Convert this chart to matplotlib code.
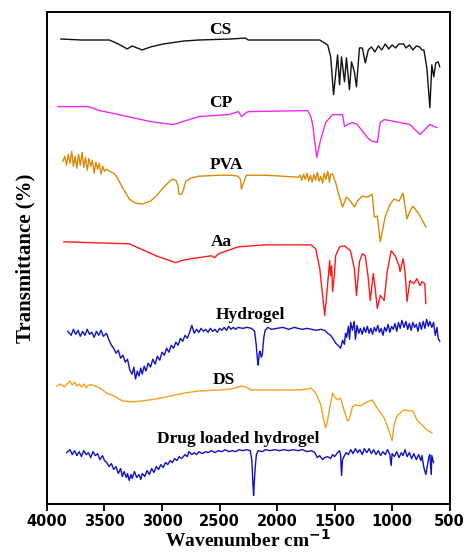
import matplotlib
matplotlib.use("Agg")
import matplotlib.pyplot as plt

# ---------------- data (wavenumber cm-1, transmittance a.u., stacked) ----------------
cs_wn = [3879, 3700, 3457, 3380, 3302, 3260, 3172, 3100, 2990, 2810, 2681, 2400, 2276, 2250,
         2000, 1800, 1629, 1560, 1534, 1509, 1474, 1457, 1440, 1414, 1397, 1371, 1353, 1328,
         1310, 1284, 1259, 1233, 1207, 1180, 1150, 1120, 1090, 1060, 1030, 1000, 970, 940,
         900, 880, 850, 820, 790, 760, 741, 724, 698, 672, 655, 638, 621, 600, 586]
cs_t = [468, 467, 467, 463, 458, 461, 457, 460, 463, 466, 467, 468, 469, 467,
        467, 467, 467, 462, 450, 412, 452, 422, 450, 425, 449, 417, 445, 435,
        420, 459, 459, 444, 457, 460, 455, 461, 457, 463, 458, 462, 459, 463,
        463, 459, 462, 457, 461, 460, 457, 457, 439, 399, 442, 430, 444, 445, 440]

cp_wn = [3905, 3647, 3612, 3543, 3457, 3300, 3100, 2914, 2871, 2681, 2422, 2336, 2310, 2267,
         2250, 1733, 1707, 1690, 1670, 1655, 1621, 1578, 1517, 1431, 1414, 1388, 1345, 1302,
         1216, 1173, 1129, 1103, 1069, 845, 759, 672, 612]
cp_t = [400, 400, 399, 396, 394, 390, 385, 382, 383, 390, 392, 395, 390, 394,
        395, 396, 390, 382, 362, 349, 367, 384, 392, 392, 380, 382, 384, 382,
        369, 365, 364, 384, 387, 382, 372, 382, 379]

pva_wn = [3862, 3845, 3830, 3815, 3800, 3785, 3770, 3755, 3740, 3725, 3710, 3695, 3680, 3665,
          3650, 3635, 3620, 3605, 3590, 3575, 3560, 3545, 3530, 3515, 3500, 3480, 3457, 3420,
          3397, 3340, 3285, 3230, 3172, 3100, 3050, 3000, 2950, 2914, 2880, 2860, 2853, 2828,
          2810, 2793, 2750, 2681, 2500, 2397, 2340, 2319, 2310, 2295, 2267, 2100, 1950, 1819,
          1800, 1785, 1770, 1755, 1740, 1725, 1710, 1695, 1680, 1665, 1650, 1635, 1620, 1605,
          1590, 1575, 1560, 1545, 1535, 1517, 1500, 1491, 1474, 1457, 1431, 1397, 1362, 1328,
          1302, 1259, 1216, 1173, 1155, 1129, 1103, 1061, 1017, 983, 940, 905, 871, 845,
          819, 767, 707]
pva_t = [345, 350, 341, 352, 343, 355, 340, 350, 338, 352, 341, 354, 339, 349,
         336, 348, 340, 346, 333, 344, 337, 343, 332, 340, 335, 337, 335, 333,
         330, 318, 307, 303, 302, 305, 310, 317, 323, 327, 326, 320, 312, 312,
         318, 325, 328, 330, 331, 331, 330, 327, 317, 322, 331, 331, 330, 329,
         331, 326, 332, 327, 333, 325, 331, 324, 332, 326, 334, 325, 330, 323,
         333, 327, 335, 324, 332, 332, 326, 324, 316, 309, 299, 309, 305, 299,
         305, 310, 309, 312, 289, 290, 264, 289, 302, 307, 305, 313, 287, 295,
         300, 292, 279]

aa_wn = [3853, 3285, 3052, 2879, 2836, 2750, 2569, 2543, 2509, 2336, 2104, 1707, 1664, 1629,
         1586, 1569, 1543, 1535, 1526, 1517, 1500, 1491, 1457, 1414, 1362, 1328, 1310, 1284,
         1259, 1233, 1207, 1190, 1164, 1147, 1129, 1103, 1069, 1043, 1009, 974, 940, 931,
         905, 888, 871, 845, 811, 785, 759, 741, 716, 707]
aa_t = [264, 262, 250, 243, 245, 247, 250, 248, 252, 259, 261, 261, 257, 237,
        190, 210, 245, 230, 240, 214, 234, 250, 259, 260, 255, 237, 210, 244,
        252, 250, 227, 205, 232, 217, 197, 210, 205, 234, 255, 250, 240, 234,
        247, 234, 204, 225, 222, 227, 220, 224, 222, 202]

hyd_wn = [3819, 3790, 3770, 3750, 3730, 3710, 3690, 3670, 3650, 3630, 3610, 3590, 3570, 3550,
          3530, 3510, 3483, 3460, 3440, 3420, 3400, 3380, 3360, 3340, 3320, 3300, 3280, 3260,
          3245, 3230, 3215, 3200, 3185, 3172, 3155, 3140, 3120, 3100, 3080, 3060, 3040, 3020,
          3000, 2980, 2960, 2940, 2920, 2900, 2880, 2860, 2840, 2820, 2800, 2780, 2760, 2741,
          2720, 2700, 2680, 2660, 2640, 2620, 2600, 2580, 2560, 2540, 2520, 2500, 2480, 2460,
          2440, 2420, 2400, 2380, 2360, 2340, 2300, 2260, 2224, 2195, 2181, 2170, 2164, 2155,
          2147, 2138, 2129, 2115, 2104, 2080, 2050, 2000, 1950, 1900, 1850, 1819, 1780, 1740,
          1700, 1660, 1620, 1586, 1560, 1535, 1510, 1490, 1470, 1448, 1430, 1415, 1405, 1395,
          1380, 1370, 1360, 1345, 1330, 1319, 1305, 1290, 1276, 1260, 1245, 1230, 1215, 1200,
          1185, 1170, 1155, 1140, 1125, 1110, 1095, 1080, 1065, 1050, 1035, 1020, 1005, 990,
          975, 960, 945, 930, 915, 897, 880, 865, 850, 835, 820, 805, 790, 775,
          760, 745, 730, 715, 700, 685, 672, 655, 640, 625, 610, 600, 586]
hyd_t = [174, 170, 176, 171, 175, 169, 174, 170, 176, 171, 173, 168, 174, 170,
         175, 169, 172, 165, 160, 157, 152, 155, 147, 150, 143, 146, 135, 131,
         138, 126, 134, 129, 137, 131, 139, 134, 142, 138, 146, 141, 149, 145,
         153, 150, 157, 153, 160, 157, 163, 160, 167, 164, 170, 167, 173, 180,
         172, 176, 173, 177, 174, 176, 173, 177, 174, 176, 173, 177, 175, 178,
         175, 179, 176, 178, 176, 178, 177, 178, 177, 174, 160, 145, 140, 152,
         154, 148, 150, 168, 175, 178, 176, 177, 178, 176, 178, 177, 176, 177,
         176, 175, 176, 175, 172, 170, 166, 162, 160, 157, 165, 161, 172, 168,
         179, 166, 183, 175, 184, 166, 180, 172, 177, 171, 178, 173, 179, 172,
         177, 171, 178, 174, 180, 173, 177, 170, 178, 174, 181, 173, 179, 176,
         182, 174, 183, 177, 185, 178, 184, 176, 182, 175, 183, 178, 181, 174,
         183, 176, 184, 177, 186, 179, 184, 178, 183, 170, 178, 167, 164]

ds_wn = [3914, 3880, 3850, 3820, 3802, 3780, 3760, 3740, 3720, 3700, 3680, 3660, 3640, 3603,
         3540, 3483, 3400, 3345, 3250, 3172, 3050, 2966, 2800, 2681, 2500, 2397, 2336, 2310,
         2276, 2224, 2000, 1819, 1733, 1707, 1680, 1664, 1620, 1600, 1578, 1560, 1543, 1517,
         1500, 1474, 1448, 1414, 1388, 1371, 1345, 1319, 1276, 1220, 1173, 1120, 1069, 1030,
         1000, 983, 957, 897, 850, 819, 785, 740, 700, 655]
ds_t = [119, 121, 118, 122, 124, 120, 123, 119, 121, 118, 121, 117, 120, 120,
        117, 112, 108, 104, 103, 104, 106, 108, 112, 114, 115, 116, 118, 119,
        118, 115, 115, 115, 116, 117, 114, 112, 100, 88, 77, 85, 97, 112,
        108, 105, 107, 93, 84, 86, 98, 100, 99, 103, 105, 95, 87, 75,
        64, 80, 89, 95, 94, 94, 85, 80, 75, 72]

dlh_wn = [3828, 3800, 3780, 3760, 3740, 3720, 3700, 3680, 3660, 3640, 3620, 3600, 3580, 3560,
          3540, 3517, 3500, 3480, 3460, 3440, 3420, 3400, 3380, 3360, 3345, 3330, 3310, 3300,
          3285, 3270, 3259, 3240, 3220, 3200, 3185, 3172, 3150, 3130, 3110, 3090, 3070, 3050,
          3030, 3010, 2990, 2970, 2950, 2930, 2910, 2890, 2870, 2850, 2830, 2800, 2780, 2767,
          2740, 2720, 2700, 2680, 2650, 2620, 2600, 2570, 2540, 2510, 2480, 2450, 2420, 2390,
          2360, 2330, 2300, 2260, 2233, 2220, 2216, 2210, 2204, 2198, 2190, 2180, 2164, 2130,
          2100, 2060, 2020, 1980, 1940, 1900, 1860, 1819, 1780, 1740, 1700, 1672, 1650, 1630,
          1604, 1586, 1560, 1535, 1517, 1500, 1474, 1457, 1448, 1440, 1431, 1414, 1400, 1380,
          1360, 1340, 1320, 1300, 1280, 1260, 1241, 1220, 1200, 1180, 1160, 1140, 1120, 1100,
          1080, 1060, 1040, 1020, 1009, 1000, 980, 960, 940, 920, 905, 888, 870, 850,
          830, 811, 790, 770, 750, 741, 724, 707, 695, 680, 672, 660, 655, 640]
dlh_t = [52, 55, 50, 54, 49, 53, 48, 54, 50, 52, 47, 53, 49, 51,
         45, 49, 44, 42, 38, 41, 35, 38, 31, 36, 28, 33, 27, 31,
         24, 30, 26, 33, 27, 30, 25, 31, 28, 34, 30, 36, 32, 38,
         35, 40, 37, 42, 40, 44, 42, 46, 44, 48, 46, 50, 48, 53,
         50, 52, 50, 53, 51, 53, 52, 54, 52, 54, 53, 55, 53, 54,
         53, 55, 54, 55, 54, 45, 37, 20, 9, 22, 37, 50, 54, 53,
         55, 54, 55, 54, 55, 54, 55, 54, 55, 53, 54, 52, 47, 49,
         45, 47, 48, 46, 50, 48, 52, 54, 50, 29, 45, 49, 52, 50,
         55, 51, 56, 52, 55, 50, 56, 52, 56, 51, 55, 50, 54, 49,
         53, 50, 55, 50, 39, 51, 48, 53, 47, 52, 49, 55, 48, 52,
         46, 51, 45, 50, 44, 49, 37, 30, 38, 48, 50, 30, 49, 42]

labels = ["CS", "CP", "PVA", "Aa", "Hydrogel", "DS", "Drug loaded hydrogel"]
label_x = [2491, 2491, 2440, 2483, 2233, 2466, 2336]
label_y = [477, 404, 341, 264, 190, 125, 66]
colors = ["#111111", "#EE2AEE", "#D98A06", "#FF1A1A", "#1111C4", "#F5A020", "#1111C4"]
x_ticks = [4000, 3500, 3000, 2500, 2000, 1500, 1000, 500]

# ---------------- plot ----------------
fig = plt.figure(figsize=(4.65, 5.53), dpi=100)
ax = fig.add_axes([0.101, 0.088, 0.866, 0.890])

series = [(cs_wn, cs_t), (cp_wn, cp_t), (pva_wn, pva_t), (aa_wn, aa_t),
          (hyd_wn, hyd_t), (ds_wn, ds_t), (dlh_wn, dlh_t)]
for (wn, t), c in zip(series, colors):
    ax.plot(wn, t, color=c, lw=1.0)

for lab, lx, ly in zip(labels, label_x, label_y):
    ax.text(lx, ly, lab, ha="center", va="center", fontsize=12.5, fontweight="bold",
            family="Liberation Serif", color="black")

ax.set_xlim(4000, 500)
ax.set_ylim(0, 495)
ax.set_xticks(x_ticks)
ax.set_xticklabels([str(v) for v in x_ticks], fontsize=10.5, fontweight="bold",
                   family="DejaVu Sans")
ax.set_yticks([])
ax.tick_params(axis="x", direction="out", length=5, width=1.3, pad=2)
for s in ax.spines.values():
    s.set_linewidth(1.4)
ax.set_xlabel("Wavenumber cm$^{\\mathbf{-1}}$", fontsize=14, fontweight="bold",
              family="Liberation Serif", labelpad=0)
ax.set_ylabel("Transmittance (%)", fontsize=15, fontweight="bold",
              family="Liberation Serif", labelpad=8)

fig.savefig("out.png", dpi=100)
